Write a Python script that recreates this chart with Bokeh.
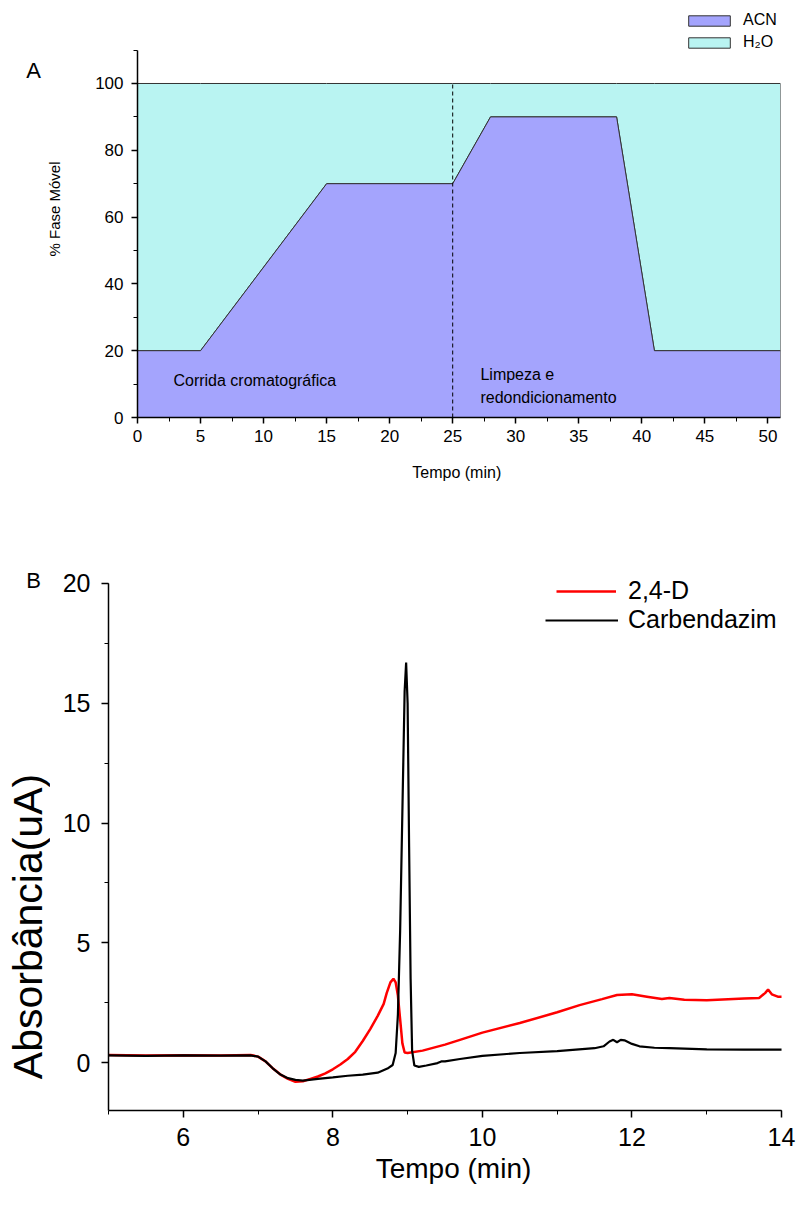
from bokeh.plotting import figure
from bokeh.layouts import column, row
from bokeh.models import Legend, LegendItem, SingleIntervalTicker, Label, Range1d
from bokeh.embed import file_html
from bokeh.resources import INLINE
import math

# ---------------- Panel A data ----------------
grad_time = [0, 5, 15, 25, 28, 38, 41, 51]
grad_acn = [20, 20, 70, 70, 90, 90, 20, 20]
grad_top = [100, 100, 100, 100, 100, 100, 100, 100]
divider_x = 25

# ---------------- Panel B data ----------------
t_24d = [5.0, 5.5, 6.0, 6.5, 6.9, 7.0, 7.1, 7.2, 7.3, 7.4, 7.5, 7.6, 7.7, 7.8, 7.9,
         8.0, 8.1, 8.2, 8.3, 8.4, 8.5, 8.6, 8.68, 8.72, 8.77, 8.81, 8.84, 8.87, 8.9,
         8.93, 8.96, 9.0, 9.2, 9.5, 9.7, 10.0, 10.5, 11.0, 11.3, 11.6, 11.8, 12.0,
         12.2, 12.4, 12.5, 12.7, 13.0, 13.5, 13.7, 13.78, 13.82, 13.87, 13.95, 14.0]
a_24d = [0.32, 0.30, 0.31, 0.30, 0.32, 0.25, 0.05, -0.25, -0.5, -0.68, -0.8, -0.78,
         -0.68, -0.58, -0.45, -0.28, -0.08, 0.15, 0.45, 0.9, 1.4, 1.95, 2.45, 2.9,
         3.35, 3.5, 3.35, 2.8, 1.8, 0.8, 0.42, 0.4, 0.5, 0.75, 0.95, 1.25, 1.65, 2.1,
         2.4, 2.65, 2.82, 2.85, 2.75, 2.65, 2.7, 2.62, 2.6, 2.68, 2.7, 2.9, 3.05,
         2.85, 2.75, 2.75]

t_carb = [5.0, 5.5, 6.0, 6.5, 6.9, 7.0, 7.1, 7.2, 7.3, 7.4, 7.5, 7.6, 7.8, 8.0, 8.2,
          8.4, 8.6, 8.73, 8.8, 8.84, 8.87, 8.9, 8.93, 8.96, 8.98, 9.0, 9.02, 9.04,
          9.06, 9.09, 9.15, 9.25, 9.4, 9.45, 9.5, 9.7, 10.0, 10.5, 11.0, 11.5, 11.62,
          11.7, 11.75, 11.8, 11.85, 11.9, 12.0, 12.1, 12.3, 12.5, 13.0, 13.5, 14.0]
a_carb = [0.30, 0.28, 0.30, 0.29, 0.30, 0.25, 0.05, -0.25, -0.5, -0.65, -0.72, -0.75,
          -0.68, -0.62, -0.55, -0.5, -0.42, -0.25, -0.1, 0.4, 2.0, 5.5, 10.5, 15.5,
          16.7, 15.0, 9.0, 3.5, 0.5, -0.12, -0.18, -0.12, -0.02, 0.05, 0.05, 0.15,
          0.28, 0.4, 0.48, 0.6, 0.68, 0.88, 0.95, 0.85, 0.95, 0.93, 0.78, 0.68, 0.62,
          0.6, 0.55, 0.54, 0.54]

ACN_COLOR = "#a4a4fd"
H2O_COLOR = "#b9f4f2"
FONT = "Liberation Sans"
INK = "black"


def bare(w, h, y_range):
    f = figure(width=w, height=h, output_backend="svg", toolbar_location=None,
               x_range=Range1d(0, w), y_range=y_range, min_border=0)
    f.axis.visible = False
    f.xgrid.visible = False
    f.ygrid.visible = False
    f.outline_line_color = None
    return f


def style_axes(p, tick_font, tick_out):
    for ax in (p.xaxis[0], p.yaxis[0]):
        ax.major_tick_in = 0
        ax.major_tick_out = tick_out
        ax.minor_tick_in = 0
        ax.minor_tick_out = 4
        ax.axis_line_width = 1.5
        ax.major_tick_line_width = 1.5
        ax.major_label_text_font = FONT
        ax.major_label_text_font_size = tick_font
        ax.major_label_text_color = INK
        ax.axis_label_text_font = FONT
        ax.axis_label_text_font_style = "normal"
        ax.axis_label_text_color = INK


# ================= Panel A =================
pa = figure(width=756, height=500, output_backend="svg", toolbar_location=None,
            x_range=Range1d(0, 51), y_range=Range1d(0, 124.85),
            min_border_left=95, min_border_right=18, min_border_top=0,
            min_border_bottom=83)
pa.outline_line_color = None
pa.xgrid.visible = False
pa.ygrid.visible = False

acn_x = grad_time + [grad_time[-1], grad_time[0]]
acn_y = grad_acn + [0, 0]
h2o_x = grad_time + grad_time[::-1]
h2o_y = grad_acn + grad_top[::-1]
h2o = pa.patch(h2o_x, h2o_y, fill_color=H2O_COLOR, line_color="#333333", line_width=1)
acn = pa.patch(acn_x, acn_y, fill_color=ACN_COLOR, line_color="#333333", line_width=1)
pa.line([divider_x, divider_x], [0, 100], line_color="black", line_width=1, line_dash="4 3")

pa.xaxis.ticker = SingleIntervalTicker(interval=5, num_minor_ticks=2)
pa.yaxis.ticker = SingleIntervalTicker(interval=20, num_minor_ticks=2)
pa.yaxis.bounds = (0, 110)
style_axes(pa, "17px", 6)
pa.yaxis.axis_label = "% Fase Móvel"
pa.yaxis.axis_label_text_font_size = "15px"
pa.yaxis.axis_label_standoff = 29
pa.yaxis.major_label_standoff = 8
pa.xaxis.axis_label = "Tempo  (min)"
pa.xaxis.axis_label_text_font_size = "16px"
pa.xaxis.axis_label_standoff = 19
pa.xaxis.major_label_standoff = 6

pa.add_layout(Label(x=2.85, y=11, text="Corrida cromatográfica", text_font=FONT,
                    text_font_size="16px", text_baseline="middle", text_color=INK))
pa.add_layout(Label(x=27.2, y=12.9, text="Limpeza e", text_font=FONT,
                    text_font_size="16px", text_baseline="middle", text_color=INK))
pa.add_layout(Label(x=27.2, y=6, text="redondicionamento", text_font=FONT,
                    text_font_size="16px", text_baseline="middle", text_color=INK))

leg_a = Legend(items=[LegendItem(label="ACN", renderers=[acn]),
                      LegendItem(label="H₂O", renderers=[h2o])],
               location=(546, 366), orientation="vertical",
               glyph_width=52, glyph_height=13, label_height=13, spacing=4,
               padding=0, margin=0, border_line_color=None, background_fill_alpha=0,
               label_text_font=FONT, label_text_font_size="16px", label_standoff=8,
               label_text_color=INK)
pa.add_layout(leg_a, "center")

afig = bare(42, 500, pa.y_range)
afig.add_layout(Label(x=33, y=103.9, text="A", text_font=FONT, text_font_size="22px",
                      text_align="center", text_baseline="middle", text_color=INK))

# ================= Panel B =================
pb = figure(width=748, height=690, output_backend="svg", toolbar_location=None,
            x_range=Range1d(5, 14.227), y_range=Range1d(-2, 20.75),
            min_border_left=58, min_border_right=0, min_border_top=65,
            min_border_bottom=80)
pb.outline_line_color = None
pb.xgrid.visible = False
pb.ygrid.visible = False

r_red = pb.line(t_24d, a_24d, line_color="#ff0000", line_width=2.5)
r_blk = pb.line(t_carb, a_carb, line_color="black", line_width=2.2)

pb.xaxis.ticker = SingleIntervalTicker(interval=2, num_minor_ticks=2)
pb.yaxis.ticker = SingleIntervalTicker(interval=5, num_minor_ticks=2)
pb.yaxis.bounds = (-2, 20)
pb.xaxis.bounds = (5, 14)
style_axes(pb, "25px", 7)
pb.yaxis.major_label_standoff = 11
pb.xaxis.axis_label = "Tempo (min)"
pb.xaxis.axis_label_text_font_size = "28px"
pb.xaxis.axis_label_standoff = 4
pb.xaxis.major_label_standoff = 10

leg_b1 = Legend(items=[LegendItem(label="2,4-D", renderers=[r_red])],
                location=(448, 505), glyph_width=60, glyph_height=20,
                label_height=20, padding=0, margin=0, border_line_color=None,
                background_fill_alpha=0, label_text_font=FONT,
                label_text_font_size="25px", label_standoff=12, label_text_color=INK)
leg_b2 = Legend(items=[LegendItem(label="Carbendazim", renderers=[r_blk])],
                location=(437, 476), glyph_width=73, glyph_height=20,
                label_height=20, padding=0, margin=0, border_line_color=None,
                background_fill_alpha=0, label_text_font=FONT,
                label_text_font_size="25px", label_standoff=10, label_text_color=INK)
pb.add_layout(leg_b1, "center")
pb.add_layout(leg_b2, "center")

bfig = bare(50, 690, pb.y_range)
bfig.add_layout(Label(x=33, y=20.13, text="B", text_font=FONT, text_font_size="22px",
                      text_align="center", text_baseline="middle", text_color=INK))
bfig.add_layout(Label(x=27, y=5.68, text="Absorbância(uA)", text_font=FONT,
                      text_font_size="41px", angle=math.pi / 2,
                      text_align="center", text_baseline="middle", text_color=INK))

page = column(row(afig, pa, spacing=0), row(bfig, pb, spacing=0), spacing=0)
open("out.html", "w").write(file_html(page, INLINE))
